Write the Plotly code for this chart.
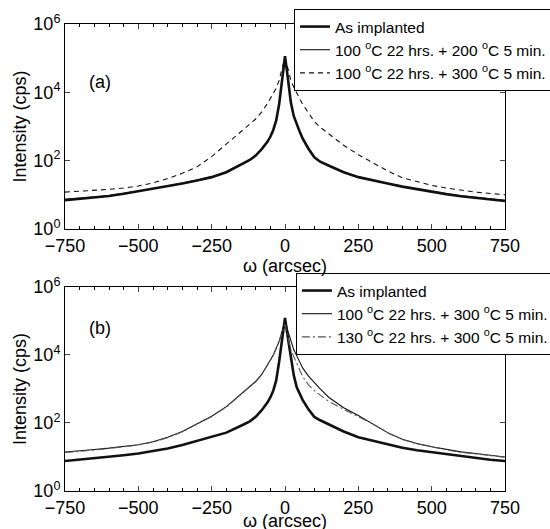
import plotly.graph_objects as go

# omega (arcsec) sample points, denser around the Bragg peak
OMEGA = [-750, -700, -650, -600, -550, -500, -450, -400, -350, -300, -250, -200,
         -150, -120, -100, -80, -60, -50, -40, -30, -20, -10, 0, 10, 20, 30, 40,
         50, 60, 80, 100, 120, 150, 200, 250, 300, 350, 400, 450, 500, 550, 600,
         650, 700, 750]

# panel (a) intensities (cps)
A_IMPLANTED = [7, 7.6, 8.3, 9.3, 10.7, 12.6, 14.8, 17.8, 21.4, 26.3, 33, 46,
               76, 105, 141, 214, 355, 500, 794, 1510, 4470, 25100, 115000, 25100,
               5010, 2000, 1120, 708, 447, 224, 126, 93, 71, 46, 33, 26, 21.4,
               17.4, 14.5, 12, 10.5, 9.1, 8.1, 7.2, 6.6]
A_200C = [7.4, 7.9, 8.6, 9.6, 11, 12.9, 15.1, 18.2, 21.9, 26.9, 33.9, 47,
          78, 107, 144, 218, 360, 505, 800, 1520, 4500, 25000, 112000, 25000,
          5050, 2020, 1130, 715, 452, 228, 128, 95, 72.5, 47, 33.8, 26.6, 21.9,
          17.8, 14.9, 12.3, 10.8, 9.4, 8.4, 7.5, 6.9]
A_300C = [12, 12.6, 13.5, 14.5, 15.8, 18.2, 22.4, 30, 42.7, 66, 132, 302,
          676, 1175, 1660, 2630, 4680, 6310, 9330, 13200, 22400, 50100, 100000,
          50100, 22400, 14100, 9330, 6310, 4470, 2510, 1410, 955, 603, 282, 150,
          89, 50, 31.6, 24, 19, 15.8, 13.5, 12, 11, 10]

# panel (b) intensities (cps)
B_IMPLANTED = [7.6, 8.3, 9.1, 10, 11.2, 12.6, 14.8, 17.8, 22.4, 29.5, 40, 52,
               83, 112, 151, 234, 398, 562, 891, 1780, 6310, 31600, 123000, 31600,
               7940, 2510, 1120, 708, 479, 251, 151, 120, 89, 56, 38, 29.5, 24,
               18.6, 15.8, 13.8, 12, 10.7, 9.5, 8.3, 7.6]
B_100_300 = [14, 15, 16.6, 18.2, 20, 23, 28, 38, 56, 95, 158, 302,
             708, 1175, 1660, 2630, 4790, 7080, 10000, 15100, 25100, 50100, 105000,
             50100, 25100, 14100, 9550, 6310, 4170, 2400, 1510, 1000, 562, 282,
             166, 95, 52, 33, 25, 20, 16.6, 14.1, 12.6, 11.2, 10]
B_130_300 = [13.5, 14.5, 16, 17.8, 19.5, 22.4, 27.5, 37, 55, 93, 155, 295,
             690, 1150, 1620, 2570, 4680, 6920, 9770, 14500, 24000, 44700, 79400,
             31600, 14100, 8910, 5620, 3550, 2340, 1320, 891, 661, 427, 251,
             155, 93, 51, 32.5, 24.5, 19.5, 16.2, 13.8, 12.3, 11, 9.8]

Y_TICKS = [1, 100, 1e4, 1e6]
Y_TICKTEXT = ["10<sup>0</sup>", "10<sup>2</sup>", "10<sup>4</sup>", "10<sup>6</sup>"]
X_TICKS = [-750, -500, -250, 0, 250, 500, 750]

LEG_A = ["As implanted",
         "100 <sup>o</sup>C 22 hrs. + 200 <sup>o</sup>C 5 min.",
         "100 <sup>o</sup>C 22 hrs. + 300 <sup>o</sup>C 5 min."]
LEG_B = ["As implanted",
         "100 <sup>o</sup>C 22 hrs. + 300 <sup>o</sup>C 5 min.",
         "130 <sup>o</sup>C 22 hrs. + 300 <sup>o</sup>C 5 min."]

FONT = "Liberation Sans, Arial, Helvetica, sans-serif"
BLACK = "#111111"

fig = go.Figure()


def add_line(y, name, xa, ya, legend, width=1.1, dash="solid", color=BLACK):
    fig.add_scatter(x=OMEGA, y=y, name=name, mode="lines", xaxis=xa, yaxis=ya,
                    legend=legend, line=dict(color=color, width=width, dash=dash))


add_line(A_IMPLANTED, LEG_A[0], "x", "y", "legend", width=2.6)
add_line(A_200C, LEG_A[1], "x", "y", "legend")
add_line(A_300C, LEG_A[2], "x", "y", "legend", dash="5px,4px")
add_line(B_IMPLANTED, LEG_B[0], "x2", "y2", "legend2", width=2.6)
add_line(B_100_300, LEG_B[1], "x2", "y2", "legend2")
add_line(B_130_300, LEG_B[2], "x2", "y2", "legend2", dash="8px,3px,2px,3px", color="#555555")

xax = dict(range=[-750, 750], tickvals=X_TICKS, ticks="inside", ticklen=5,
           showline=True, linecolor="black", linewidth=1, mirror="ticks",
           showgrid=False, zeroline=False, tickfont=dict(size=18), automargin=False,
           minor=dict(ticks="inside", dtick=50, ticklen=3, tickcolor="black", showgrid=False))
yax = dict(type="log", range=[0, 6], tickvals=Y_TICKS, ticktext=Y_TICKTEXT,
           ticks="inside", ticklen=5, showline=True, linecolor="black", linewidth=1,
           mirror="ticks", showgrid=False, zeroline=False, tickfont=dict(size=18),
           automargin=False,
           title=dict(text="Intensity (cps)", font=dict(size=18), standoff=2))
legbox = dict(bgcolor="white", bordercolor="black", borderwidth=1,
              font=dict(size=15.5, color="black"), xanchor="left", yanchor="top",
              xref="container", yref="container", itemwidth=30, tracegroupgap=0)

fig.update_layout(
    width=550, height=529, template="none",
    paper_bgcolor="white", plot_bgcolor="white",
    font=dict(family=FONT, color="black"),
    margin=dict(l=65, r=45, t=24, b=38, autoexpand=False),
    xaxis=dict(xax, domain=[0, 1], anchor="y"),
    yaxis=dict(yax, domain=[0.561, 1], anchor="x"),
    xaxis2=dict(xax, domain=[0, 1], anchor="y2"),
    yaxis2=dict(yax, domain=[0, 0.437], anchor="x2"),
    legend=dict(legbox, x=0.5345, y=0.983),
    legend2=dict(legbox, x=0.538, y=0.484),
    showlegend=True,
)

# x-axis titles sit tight under the tick labels, as in the original
for ypos in (0.4818, -0.0635):
    fig.add_annotation(text="ω (arcsec)", x=0.5, y=ypos, xref="paper", yref="paper",
                       showarrow=False, yanchor="middle", font=dict(size=18))

fig.add_annotation(text="(a)", x=-675, y=4.3, xref="x", yref="y", showarrow=False,
                   xanchor="left", font=dict(size=18))
fig.add_annotation(text="(b)", x=-675, y=4.8, xref="x2", yref="y2", showarrow=False,
                   xanchor="left", font=dict(size=18))

# drop the default page margin so the figure sits at the window's corner
fig.write_html("out.html", config={"displayModeBar": False},
               post_script="document.body.style.margin='0';")
